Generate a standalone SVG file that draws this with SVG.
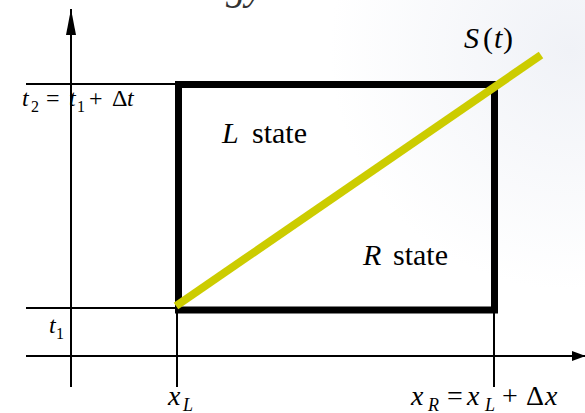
<svg xmlns="http://www.w3.org/2000/svg" width="585" height="413" viewBox="0 0 585 413">
  <defs>
    <style>
      .thin { stroke: #000; stroke-width: 2; fill: none; }
      .box { stroke: #000; stroke-width: 7; fill: none; stroke-linejoin: miter; }
      .iface { stroke: #cccc00; stroke-width: 8; fill: none; }
      .it { font-style: italic; }
      .ser { font-family: "Liberation Serif", "Times New Roman", serif; }
    </style>
    <radialGradient id="bgTint" cx="570" cy="50" r="240" gradientUnits="userSpaceOnUse">
      <stop offset="0" stop-color="#f0f2f7"/>
      <stop offset="1" stop-color="#ffffff"/>
    </radialGradient>
    <marker id="arrow" viewBox="0 0 14 10" refX="14" refY="5" markerWidth="14" markerHeight="10" markerUnits="userSpaceOnUse" orient="auto">
      <path d="M0,0 L14,5 L0,10 Z" fill="#000"/>
    </marker>
    <marker id="arrowUp" viewBox="0 0 26 10" refX="26" refY="5" markerWidth="26" markerHeight="10" markerUnits="userSpaceOnUse" orient="auto">
      <path d="M0,0 L26,5 L0,10 Z" fill="#000"/>
    </marker>
  </defs>

  <rect x="0" y="0" width="585" height="413" fill="url(#bgTint)"/>
  <text class="ser it" x="226" y="-1" font-size="40" fill="#333">gy</text>

  <g id="connectors">
    <line class="thin" x1="71" y1="387" x2="71" y2="9" marker-end="url(#arrowUp)"/>
    <line class="thin" x1="26" y1="356" x2="586" y2="356" marker-end="url(#arrow)"/>
    <line class="thin" x1="26" y1="84" x2="178" y2="84"/>
    <line class="thin" x1="26" y1="308" x2="178" y2="308"/>
    <line class="thin" x1="177" y1="308" x2="177" y2="387"/>
    <line class="thin" x1="494" y1="310" x2="494" y2="387"/>
  </g>

  <g id="cell">
    <rect class="box" x="178.5" y="84.5" width="316" height="225.5"/>
  </g>

  <g id="interface">
    <line class="iface" x1="176" y1="306" x2="541" y2="55"/>
  </g>

  <g id="label-t2" class="ser" font-size="24">
    <text x="22" y="106" class="it">t</text>
    <text x="31" y="112" font-size="16">2</text>
    <text x="46" y="106">=</text>
    <text x="69" y="106" class="it">t</text>
    <text x="77" y="112" font-size="16">1</text>
    <text x="89" y="106">+</text>
    <text x="112" y="106">Δ</text>
    <text x="127" y="106" class="it">t</text>
  </g>

  <g id="label-t1" class="ser" font-size="24">
    <text x="49" y="333" class="it">t</text>
    <text x="56" y="339" font-size="16">1</text>
  </g>

  <g id="label-L" class="ser" font-size="30">
    <text x="222" y="143" class="it">L</text>
    <text x="252" y="143">state</text>
  </g>

  <g id="label-R" class="ser" font-size="30">
    <text x="363" y="265" class="it">R</text>
    <text x="393" y="265">state</text>
  </g>

  <g id="label-S" class="ser" font-size="30">
    <text x="464" y="48" class="it">S</text>
    <text x="483" y="48">(</text>
    <text x="494" y="48" class="it">t</text>
    <text x="503" y="48">)</text>
  </g>

  <g id="label-xL" class="ser" font-size="28">
    <text x="168" y="405" class="it">x</text>
    <text x="183" y="411" font-size="18" class="it">L</text>
  </g>

  <g id="label-xR" class="ser" font-size="28">
    <text x="411" y="405" class="it">x</text>
    <text x="428" y="411" font-size="18" class="it">R</text>
    <text x="447" y="405">=</text>
    <text x="467" y="405" class="it">x</text>
    <text x="485" y="411" font-size="18" class="it">L</text>
    <text x="502" y="405">+</text>
    <text x="526" y="405">Δ</text>
    <text x="545" y="405" class="it">x</text>
  </g>
</svg>
